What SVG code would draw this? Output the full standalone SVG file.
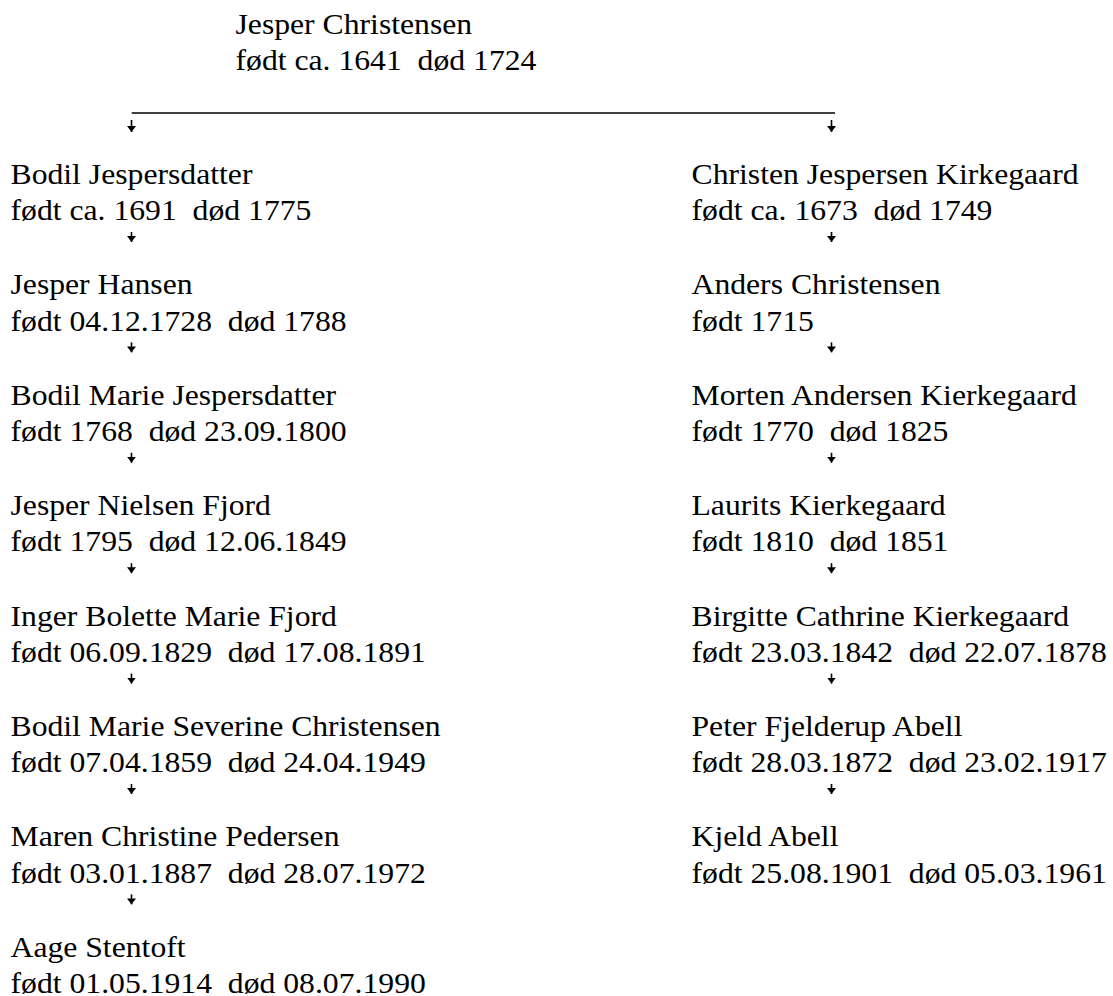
<svg xmlns="http://www.w3.org/2000/svg" width="1113" height="996" viewBox="0 0 1113 996">
<style>
text{font-family:"Liberation Serif","Times New Roman",serif;font-size:28.5px;fill:#000;white-space:pre}
.c{stroke:#000;stroke-width:1.6;fill:none}
.arr{stroke:#000;stroke-width:1.6;fill:none;marker-end:url(#ah)}
</style>
<defs>
<marker id="ah" viewBox="0 0 6 9" refX="6" refY="4.5" markerWidth="6" markerHeight="9" markerUnits="userSpaceOnUse" orient="auto">
<path d="M0,0 L6,4.5 L0,9 z" fill="#000"/>
</marker>
</defs>
<rect width="1113" height="996" fill="#fff"/>
<g id="root" transform="translate(235.5,34) scale(1.112,1)"><text x="0" y="0">Jesper Christensen</text><text x="0" y="36.3">født ca. 1641  død 1724</text></g>
<g id="L0" transform="translate(10.5,184) scale(1.112,1)"><text x="0" y="0">Bodil Jespersdatter</text><text x="0" y="36.3">født ca. 1691  død 1775</text></g>
<g id="L1" transform="translate(10.5,294.4) scale(1.112,1)"><text x="0" y="0">Jesper Hansen</text><text x="0" y="36.3">født 04.12.1728  død 1788</text></g>
<g id="L2" transform="translate(10.5,404.8) scale(1.112,1)"><text x="0" y="0">Bodil Marie Jespersdatter</text><text x="0" y="36.3">født 1768  død 23.09.1800</text></g>
<g id="L3" transform="translate(10.5,515.2) scale(1.112,1)"><text x="0" y="0">Jesper Nielsen Fjord</text><text x="0" y="36.3">født 1795  død 12.06.1849</text></g>
<g id="L4" transform="translate(10.5,625.6) scale(1.112,1)"><text x="0" y="0">Inger Bolette Marie Fjord</text><text x="0" y="36.3">født 06.09.1829  død 17.08.1891</text></g>
<g id="L5" transform="translate(10.5,736) scale(1.112,1)"><text x="0" y="0">Bodil Marie Severine Christensen</text><text x="0" y="36.3">født 07.04.1859  død 24.04.1949</text></g>
<g id="L6" transform="translate(10.5,846.4) scale(1.112,1)"><text x="0" y="0">Maren Christine Pedersen</text><text x="0" y="36.3">født 03.01.1887  død 28.07.1972</text></g>
<g id="L7" transform="translate(10.5,956.8) scale(1.112,1)"><text x="0" y="0">Aage Stentoft</text><text x="0" y="36.3">født 01.05.1914  død 08.07.1990</text></g>
<g id="R0" transform="translate(691.5,184) scale(1.112,1)"><text x="0" y="0">Christen Jespersen Kirkegaard</text><text x="0" y="36.3">født ca. 1673  død 1749</text></g>
<g id="R1" transform="translate(691.5,294.4) scale(1.112,1)"><text x="0" y="0">Anders Christensen</text><text x="0" y="36.3">født 1715</text></g>
<g id="R2" transform="translate(691.5,404.8) scale(1.112,1)"><text x="0" y="0">Morten Andersen Kierkegaard</text><text x="0" y="36.3">født 1770  død 1825</text></g>
<g id="R3" transform="translate(691.5,515.2) scale(1.112,1)"><text x="0" y="0">Laurits Kierkegaard</text><text x="0" y="36.3">født 1810  død 1851</text></g>
<g id="R4" transform="translate(691.5,625.6) scale(1.112,1)"><text x="0" y="0">Birgitte Cathrine Kierkegaard</text><text x="0" y="36.3">født 23.03.1842  død 22.07.1878</text></g>
<g id="R5" transform="translate(691.5,736) scale(1.112,1)"><text x="0" y="0">Peter Fjelderup Abell</text><text x="0" y="36.3">født 28.03.1872  død 23.02.1917</text></g>
<g id="R6" transform="translate(691.5,846.4) scale(1.112,1)"><text x="0" y="0">Kjeld Abell</text><text x="0" y="36.3">født 25.08.1901  død 05.03.1961</text></g>
<g id="connectors">
<line class="c" x1="131.7" y1="113" x2="835" y2="113"/>
<line class="arr" x1="131.5" y1="120" x2="131.5" y2="132"/>
<line class="arr" x1="831.5" y1="120" x2="831.5" y2="132"/>
<line class="arr" x1="131.5" y1="232" x2="131.5" y2="242"/>
<line class="arr" x1="131.5" y1="342.4" x2="131.5" y2="352.4"/>
<line class="arr" x1="131.5" y1="452.8" x2="131.5" y2="462.8"/>
<line class="arr" x1="131.5" y1="563.2" x2="131.5" y2="573.2"/>
<line class="arr" x1="131.5" y1="673.6" x2="131.5" y2="683.6"/>
<line class="arr" x1="131.5" y1="784" x2="131.5" y2="794"/>
<line class="arr" x1="131.5" y1="894.4" x2="131.5" y2="904.4"/>
<line class="arr" x1="831.5" y1="232" x2="831.5" y2="242"/>
<line class="arr" x1="831.5" y1="342.4" x2="831.5" y2="352.4"/>
<line class="arr" x1="831.5" y1="452.8" x2="831.5" y2="462.8"/>
<line class="arr" x1="831.5" y1="563.2" x2="831.5" y2="573.2"/>
<line class="arr" x1="831.5" y1="673.6" x2="831.5" y2="683.6"/>
<line class="arr" x1="831.5" y1="784" x2="831.5" y2="794"/>
</g>
</svg>
